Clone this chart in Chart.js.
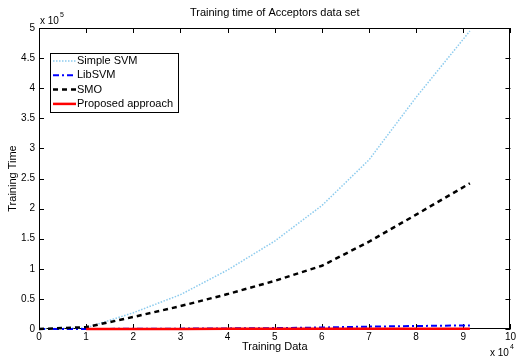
<!DOCTYPE html>
<html>
<head>
<meta charset="utf-8">
<script src="https://cdn.jsdelivr.net/npm/chart.js@4.4.0/dist/chart.umd.min.js"></script>
<style>
  html, body { margin: 0; padding: 0; background: #fff; }
</style>
</head>
<body>
<canvas id="chart" width="518" height="358"></canvas>
<script>
// training set sizes (x) and training times (y)
const trainingSizes = [0, 10000, 20000, 30000, 40000, 50000, 60000, 70000, 80000, 91400];
const simpleSvm = [0, 2000, 27000, 57000, 98000, 146000, 205000, 281000, 385000, 495000];
const libSvm = [0, 100, 300, 600, 1000, 1500, 2500, 4000, 5000, 6000];
const smo = [0, 3000, 20000, 38000, 58000, 80000, 105000, 145000, 190000, 242000];
const proposed = [null, 100, 150, 200, 250, 300, 350, 400, 450, 500];

const seriesNames = ['Simple SVM', 'LibSVM', 'SMO', 'Proposed approach'];
const xTickLabels = ['0', '1', '2', '3', '4', '5', '6', '7', '8', '9', '10'];
const yTickLabels = ['0', '0.5', '1', '1.5', '2', '2.5', '3', '3.5', '4', '4.5', '5'];

const FONT = 'Arial, "Liberation Sans", Helvetica, sans-serif';

function toPoints(values) {
  return trainingSizes.map((x, i) => ({ x, y: values[i] })).filter(p => p.y !== null);
}

const styles = [
  { color: '#8ccbee', width: 1.5, dash: [1.5, 1.5] },
  { color: '#0000ff', width: 2, dash: [6, 3, 2, 3] },
  { color: '#000000', width: 2.5, dash: [5, 4] },
  { color: '#ff0000', width: 2.5, dash: [] }
];

const datasets = [simpleSvm, libSvm, smo, proposed].map((vals, i) => ({
  label: seriesNames[i],
  data: toPoints(vals),
  showLine: true,
  borderColor: styles[i].color,
  borderWidth: styles[i].width,
  borderDash: styles[i].dash,
  pointRadius: 0,
  tension: 0,
  clip: false,
  order: 3 - i
}));

function drawPower(ctx, x, y, exp) {
  ctx.font = '10px ' + FONT;
  ctx.fillText('x 10', x, y);
  const w = ctx.measureText('x 10').width;
  ctx.font = '7px ' + FONT;
  ctx.fillText(exp, x + w + 1, y - 6);
}

const matlabFrame = {
  id: 'matlabFrame',
  beforeDatasetsDraw(chart) {
    const { ctx, chartArea: a, scales } = chart;
    ctx.save();
    ctx.strokeStyle = '#000';
    ctx.lineWidth = 1;
    ctx.strokeRect(Math.round(a.left) + 0.5, Math.round(a.top) + 0.5,
      Math.round(a.right - a.left) - 1, Math.round(a.bottom - a.top) - 1);
    ctx.beginPath();
    scales.x.ticks.forEach(t => {
      const px = Math.round(scales.x.getPixelForValue(t.value)) + 0.5;
      ctx.moveTo(px, a.bottom); ctx.lineTo(px, a.bottom - 5);
      ctx.moveTo(px, a.top); ctx.lineTo(px, a.top + 5);
    });
    scales.y.ticks.forEach(t => {
      const py = Math.round(scales.y.getPixelForValue(t.value)) + 0.5;
      ctx.moveTo(a.left, py); ctx.lineTo(a.left + 5, py);
      ctx.moveTo(a.right, py); ctx.lineTo(a.right - 5, py);
    });
    ctx.stroke();
    ctx.restore();
  },
  afterDraw(chart) {
    const { ctx, chartArea: a } = chart;
    ctx.save();
    ctx.fillStyle = '#000';
    ctx.font = '11px ' + FONT;
    ctx.textBaseline = 'middle';
    ctx.textAlign = 'center';
    ctx.fillText('Training time of Acceptors data set', (a.left + a.right) / 2, 13);

    // exponent labels
    ctx.textAlign = 'left';
    drawPower(ctx, 40, 21, '5');
    drawPower(ctx, 490, 353, '4');

    // legend
    const bx = 50.5, by = 53.5, bw = 128, bh = 59;
    ctx.fillStyle = '#fff';
    ctx.fillRect(bx, by, bw, bh);
    ctx.strokeStyle = '#000';
    ctx.lineWidth = 1;
    ctx.strokeRect(bx, by, bw, bh);
    ctx.font = '11px ' + FONT;
    chart.data.datasets.forEach((ds, i) => {
      const y = 61 + i * 14.3;
      ctx.save();
      ctx.strokeStyle = ds.borderColor;
      ctx.lineWidth = ds.borderWidth;
      ctx.setLineDash(ds.borderDash);
      ctx.beginPath();
      ctx.moveTo(53, y); ctx.lineTo(76, y);
      ctx.stroke();
      ctx.restore();
      ctx.fillStyle = '#000';
      ctx.fillText(ds.label, 77, y);
    });
    ctx.restore();
  }
};

new Chart(document.getElementById('chart'), {
  type: 'scatter',
  data: { datasets },
  plugins: [matlabFrame],
  options: {
    responsive: false,
    animation: false,
    devicePixelRatio: 1,
    layout: { padding: { top: 28, right: 4, left: 0, bottom: 0 } },
    plugins: { legend: { display: false }, tooltip: { enabled: false } },
    scales: {
      x: {
        type: 'linear', min: 0, max: 100000,
        afterFit: s => { s.height = 29; },
        afterBuildTicks: s => { s.ticks = xTickLabels.map((_, i) => ({ value: i * 10000 })); },
        grid: { display: false, drawTicks: false },
        border: { display: false },
        ticks: {
          autoSkip: false, maxRotation: 0, padding: 2,
          color: '#000', font: { family: FONT, size: 10 },
          callback: (v, i) => xTickLabels[i]
        },
        title: {
          display: true, text: 'Training Data', color: '#000',
          font: { family: FONT, size: 11 }, padding: { top: 0, bottom: 4 }
        }
      },
      y: {
        type: 'linear', min: 0, max: 500000,
        afterFit: s => { s.width = 39; },
        afterBuildTicks: s => { s.ticks = yTickLabels.map((_, i) => ({ value: i * 50000 })); },
        grid: { display: false, drawTicks: false },
        border: { display: false },
        ticks: {
          autoSkip: false, padding: 4,
          color: '#000', font: { family: FONT, size: 10 },
          callback: (v, i) => yTickLabels[i]
        },
        title: {
          display: true, text: 'Training Time', color: '#000',
          font: { family: FONT, size: 11 }, padding: { top: 6, bottom: 0 }
        }
      }
    }
  }
});
</script>
</body>
</html>
